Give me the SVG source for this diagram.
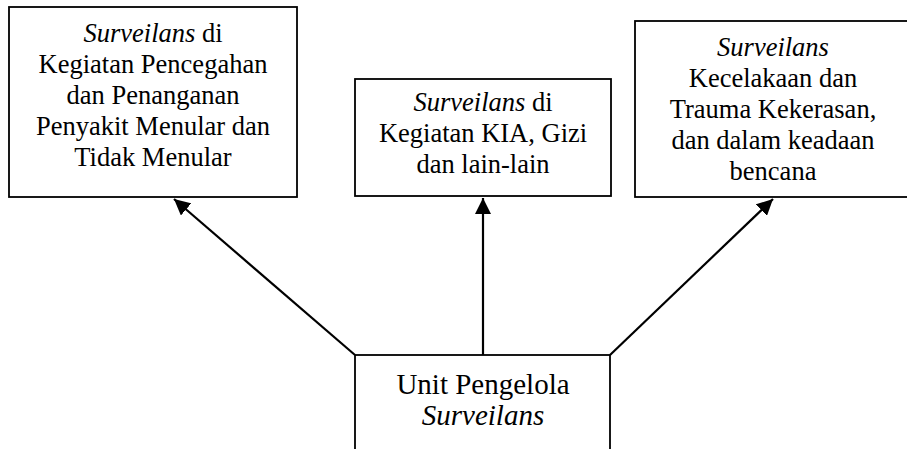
<svg xmlns="http://www.w3.org/2000/svg" width="907" height="449" viewBox="0 0 907 449">
<style>
.box{fill:#fff;stroke:#000;stroke-width:1.8}
.t{font-family:'Liberation Serif','Times New Roman',serif;font-size:26.5px;fill:#000;text-anchor:middle}
.b{font-size:29px}
.i{font-style:italic}
.c{stroke:#000;stroke-width:2.2;fill:none;marker-end:url(#ah)}
</style>
<defs>
<marker id="ah" markerUnits="userSpaceOnUse" markerWidth="17" markerHeight="16" refX="16" refY="8" orient="auto" viewBox="0 0 17 16">
<path d="M0,0 L16,8 L0,16 z" fill="#000"/>
</marker>
</defs>
<g id="node-penyakit">
<rect class="box" x="9" y="7" width="288" height="190"/>
<text class="t" x="153" y="42"><tspan class="i">Surveilans</tspan>  di</text>
<text class="t" x="153" y="73">Kegiatan Pencegahan</text>
<text class="t" x="153" y="104">dan Penanganan</text>
<text class="t" x="153" y="135">Penyakit Menular dan</text>
<text class="t" x="153" y="166">Tidak Menular</text>
</g>
<g id="node-kia">
<rect class="box" x="355" y="79" width="256" height="117"/>
<text class="t" x="483" y="111"><tspan class="i">Surveilans</tspan> di</text>
<text class="t" x="483" y="142">Kegiatan KIA, Gizi</text>
<text class="t" x="483" y="173">dan lain-lain</text>
</g>
<g id="node-kecelakaan">
<rect class="box" x="635" y="21" width="276" height="176"/>
<text class="t i" x="773" y="56">Surveilans</text>
<text class="t" x="773" y="87">Kecelakaan dan</text>
<text class="t" x="773" y="118">Trauma Kekerasan,</text>
<text class="t" x="773" y="149">dan dalam keadaan</text>
<text class="t" x="773" y="180">bencana</text>
</g>
<g id="node-unit">
<rect class="box" x="355" y="355" width="255" height="110"/>
<text class="t b" x="483" y="394">Unit Pengelola</text>
<text class="t b i" x="483" y="425">Surveilans</text>
</g>
<g id="connectors">
<line class="c" x1="355" y1="355" x2="174" y2="199"/>
<line class="c" x1="483" y1="355" x2="483" y2="198"/>
<line class="c" x1="610" y1="355" x2="773" y2="199"/>
</g>
</svg>
